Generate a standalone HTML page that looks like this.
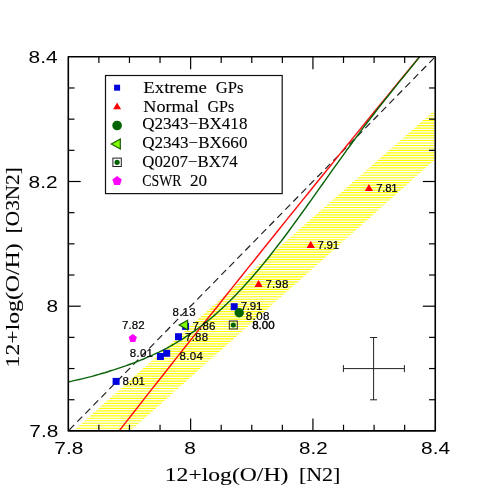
<!DOCTYPE html>
<html><head><meta charset="utf-8"><title>plot</title>
<style>
html,body{margin:0;padding:0;background:#fff;overflow:hidden;width:491px;height:491px;}
svg{display:block;font-family:"Liberation Sans",sans-serif;will-change:transform;}
</style></head>
<body>
<svg width="491" height="491" viewBox="0 0 491 491">
<defs>
<clipPath id="band"><polygon points="73.4,431 130.3,431 434.3,160.2 434.3,110.6 250,272.8"/></clipPath>
<clipPath id="cp"><rect x="68.3" y="56.8" width="366.95" height="374.09999999999997"/></clipPath>
</defs>
<rect width="491" height="491" fill="#fff"/>
<g clip-path="url(#cp)">
<g clip-path="url(#band)"><g stroke="#ffff00" stroke-width="1.15"><line x1="60" x2="440" y1="110.76" y2="110.76"/><line x1="60" x2="440" y1="113.24" y2="113.24"/><line x1="60" x2="440" y1="115.72" y2="115.72"/><line x1="60" x2="440" y1="118.20" y2="118.20"/><line x1="60" x2="440" y1="120.68" y2="120.68"/><line x1="60" x2="440" y1="123.16" y2="123.16"/><line x1="60" x2="440" y1="125.64" y2="125.64"/><line x1="60" x2="440" y1="128.12" y2="128.12"/><line x1="60" x2="440" y1="130.60" y2="130.60"/><line x1="60" x2="440" y1="133.08" y2="133.08"/><line x1="60" x2="440" y1="135.56" y2="135.56"/><line x1="60" x2="440" y1="138.04" y2="138.04"/><line x1="60" x2="440" y1="140.52" y2="140.52"/><line x1="60" x2="440" y1="143.00" y2="143.00"/><line x1="60" x2="440" y1="145.48" y2="145.48"/><line x1="60" x2="440" y1="147.96" y2="147.96"/><line x1="60" x2="440" y1="150.44" y2="150.44"/><line x1="60" x2="440" y1="152.92" y2="152.92"/><line x1="60" x2="440" y1="155.40" y2="155.40"/><line x1="60" x2="440" y1="157.88" y2="157.88"/><line x1="60" x2="440" y1="160.36" y2="160.36"/><line x1="60" x2="440" y1="162.84" y2="162.84"/><line x1="60" x2="440" y1="165.32" y2="165.32"/><line x1="60" x2="440" y1="167.80" y2="167.80"/><line x1="60" x2="440" y1="170.28" y2="170.28"/><line x1="60" x2="440" y1="172.76" y2="172.76"/><line x1="60" x2="440" y1="175.24" y2="175.24"/><line x1="60" x2="440" y1="177.72" y2="177.72"/><line x1="60" x2="440" y1="180.20" y2="180.20"/><line x1="60" x2="440" y1="182.68" y2="182.68"/><line x1="60" x2="440" y1="185.16" y2="185.16"/><line x1="60" x2="440" y1="187.64" y2="187.64"/><line x1="60" x2="440" y1="190.12" y2="190.12"/><line x1="60" x2="440" y1="192.60" y2="192.60"/><line x1="60" x2="440" y1="195.08" y2="195.08"/><line x1="60" x2="440" y1="197.56" y2="197.56"/><line x1="60" x2="440" y1="200.04" y2="200.04"/><line x1="60" x2="440" y1="202.52" y2="202.52"/><line x1="60" x2="440" y1="205.00" y2="205.00"/><line x1="60" x2="440" y1="207.48" y2="207.48"/><line x1="60" x2="440" y1="209.96" y2="209.96"/><line x1="60" x2="440" y1="212.44" y2="212.44"/><line x1="60" x2="440" y1="214.92" y2="214.92"/><line x1="60" x2="440" y1="217.40" y2="217.40"/><line x1="60" x2="440" y1="219.88" y2="219.88"/><line x1="60" x2="440" y1="222.36" y2="222.36"/><line x1="60" x2="440" y1="224.84" y2="224.84"/><line x1="60" x2="440" y1="227.32" y2="227.32"/><line x1="60" x2="440" y1="229.80" y2="229.80"/><line x1="60" x2="440" y1="232.28" y2="232.28"/><line x1="60" x2="440" y1="234.76" y2="234.76"/><line x1="60" x2="440" y1="237.24" y2="237.24"/><line x1="60" x2="440" y1="239.72" y2="239.72"/><line x1="60" x2="440" y1="242.20" y2="242.20"/><line x1="60" x2="440" y1="244.68" y2="244.68"/><line x1="60" x2="440" y1="247.16" y2="247.16"/><line x1="60" x2="440" y1="249.64" y2="249.64"/><line x1="60" x2="440" y1="252.12" y2="252.12"/><line x1="60" x2="440" y1="254.60" y2="254.60"/><line x1="60" x2="440" y1="257.08" y2="257.08"/><line x1="60" x2="440" y1="259.56" y2="259.56"/><line x1="60" x2="440" y1="262.04" y2="262.04"/><line x1="60" x2="440" y1="264.52" y2="264.52"/><line x1="60" x2="440" y1="267.00" y2="267.00"/><line x1="60" x2="440" y1="269.48" y2="269.48"/><line x1="60" x2="440" y1="271.96" y2="271.96"/><line x1="60" x2="440" y1="274.44" y2="274.44"/><line x1="60" x2="440" y1="276.92" y2="276.92"/><line x1="60" x2="440" y1="279.40" y2="279.40"/><line x1="60" x2="440" y1="281.88" y2="281.88"/><line x1="60" x2="440" y1="284.36" y2="284.36"/><line x1="60" x2="440" y1="286.84" y2="286.84"/><line x1="60" x2="440" y1="289.32" y2="289.32"/><line x1="60" x2="440" y1="291.80" y2="291.80"/><line x1="60" x2="440" y1="294.28" y2="294.28"/><line x1="60" x2="440" y1="296.76" y2="296.76"/><line x1="60" x2="440" y1="299.24" y2="299.24"/><line x1="60" x2="440" y1="301.72" y2="301.72"/><line x1="60" x2="440" y1="304.20" y2="304.20"/><line x1="60" x2="440" y1="306.68" y2="306.68"/><line x1="60" x2="440" y1="309.16" y2="309.16"/><line x1="60" x2="440" y1="311.64" y2="311.64"/><line x1="60" x2="440" y1="314.12" y2="314.12"/><line x1="60" x2="440" y1="316.60" y2="316.60"/><line x1="60" x2="440" y1="319.08" y2="319.08"/><line x1="60" x2="440" y1="321.56" y2="321.56"/><line x1="60" x2="440" y1="324.04" y2="324.04"/><line x1="60" x2="440" y1="326.52" y2="326.52"/><line x1="60" x2="440" y1="329.00" y2="329.00"/><line x1="60" x2="440" y1="331.48" y2="331.48"/><line x1="60" x2="440" y1="333.96" y2="333.96"/><line x1="60" x2="440" y1="336.44" y2="336.44"/><line x1="60" x2="440" y1="338.92" y2="338.92"/><line x1="60" x2="440" y1="341.40" y2="341.40"/><line x1="60" x2="440" y1="343.88" y2="343.88"/><line x1="60" x2="440" y1="346.36" y2="346.36"/><line x1="60" x2="440" y1="348.84" y2="348.84"/><line x1="60" x2="440" y1="351.32" y2="351.32"/><line x1="60" x2="440" y1="353.80" y2="353.80"/><line x1="60" x2="440" y1="356.28" y2="356.28"/><line x1="60" x2="440" y1="358.76" y2="358.76"/><line x1="60" x2="440" y1="361.24" y2="361.24"/><line x1="60" x2="440" y1="363.72" y2="363.72"/><line x1="60" x2="440" y1="366.20" y2="366.20"/><line x1="60" x2="440" y1="368.68" y2="368.68"/><line x1="60" x2="440" y1="371.16" y2="371.16"/><line x1="60" x2="440" y1="373.64" y2="373.64"/><line x1="60" x2="440" y1="376.12" y2="376.12"/><line x1="60" x2="440" y1="378.60" y2="378.60"/><line x1="60" x2="440" y1="381.08" y2="381.08"/><line x1="60" x2="440" y1="383.56" y2="383.56"/><line x1="60" x2="440" y1="386.04" y2="386.04"/><line x1="60" x2="440" y1="388.52" y2="388.52"/><line x1="60" x2="440" y1="391.00" y2="391.00"/><line x1="60" x2="440" y1="393.48" y2="393.48"/><line x1="60" x2="440" y1="395.96" y2="395.96"/><line x1="60" x2="440" y1="398.44" y2="398.44"/><line x1="60" x2="440" y1="400.92" y2="400.92"/><line x1="60" x2="440" y1="403.40" y2="403.40"/><line x1="60" x2="440" y1="405.88" y2="405.88"/><line x1="60" x2="440" y1="408.36" y2="408.36"/><line x1="60" x2="440" y1="410.84" y2="410.84"/><line x1="60" x2="440" y1="413.32" y2="413.32"/><line x1="60" x2="440" y1="415.80" y2="415.80"/><line x1="60" x2="440" y1="418.28" y2="418.28"/><line x1="60" x2="440" y1="420.76" y2="420.76"/><line x1="60" x2="440" y1="423.24" y2="423.24"/><line x1="60" x2="440" y1="425.72" y2="425.72"/><line x1="60" x2="440" y1="428.20" y2="428.20"/><line x1="60" x2="440" y1="430.68" y2="430.68"/></g></g>
<g stroke="#1a1a1a" stroke-width="1.15"><line x1="69.3" y1="429.9" x2="74.2" y2="424.9"/><line x1="77.3" y1="421.7" x2="82.2" y2="416.7"/><line x1="85.3" y1="413.6" x2="90.2" y2="408.6"/><line x1="93.3" y1="405.4" x2="98.2" y2="400.4"/><line x1="101.3" y1="397.3" x2="106.2" y2="392.3"/><line x1="109.3" y1="389.1" x2="114.2" y2="384.1"/><line x1="117.3" y1="380.9" x2="122.2" y2="376.0"/><line x1="125.3" y1="372.8" x2="130.2" y2="367.8"/><line x1="133.3" y1="364.6" x2="138.2" y2="359.7"/><line x1="141.3" y1="356.5" x2="146.2" y2="351.5"/><line x1="149.3" y1="348.3" x2="154.2" y2="343.3"/><line x1="157.3" y1="340.2" x2="162.2" y2="335.2"/><line x1="165.3" y1="332.0" x2="170.2" y2="327.0"/><line x1="173.3" y1="323.9" x2="178.2" y2="318.9"/><line x1="181.3" y1="315.7" x2="186.2" y2="310.7"/><line x1="189.3" y1="307.5" x2="194.2" y2="302.6"/><line x1="197.3" y1="299.4" x2="202.2" y2="294.4"/><line x1="205.3" y1="291.2" x2="210.2" y2="286.3"/><line x1="213.3" y1="283.1" x2="218.2" y2="278.1"/><line x1="221.3" y1="274.9" x2="226.2" y2="269.9"/><line x1="229.3" y1="266.8" x2="234.2" y2="261.8"/><line x1="237.3" y1="258.6" x2="242.2" y2="253.6"/><line x1="245.3" y1="250.5" x2="250.2" y2="245.5"/><line x1="253.3" y1="242.3" x2="258.2" y2="237.3"/><line x1="261.3" y1="234.1" x2="266.2" y2="229.2"/><line x1="269.3" y1="226.0" x2="274.2" y2="221.0"/><line x1="277.3" y1="217.8" x2="282.2" y2="212.9"/><line x1="285.3" y1="209.7" x2="290.2" y2="204.7"/><line x1="293.3" y1="201.5" x2="298.2" y2="196.5"/><line x1="301.3" y1="193.4" x2="306.2" y2="188.4"/><line x1="309.3" y1="185.2" x2="314.2" y2="180.2"/><line x1="317.3" y1="177.0" x2="322.2" y2="172.1"/><line x1="325.3" y1="168.9" x2="330.2" y2="163.9"/><line x1="333.3" y1="160.7" x2="338.2" y2="155.8"/><line x1="341.3" y1="152.6" x2="346.2" y2="147.6"/><line x1="349.3" y1="144.4" x2="354.2" y2="139.4"/><line x1="357.3" y1="136.3" x2="362.2" y2="131.3"/><line x1="365.3" y1="128.1" x2="370.2" y2="123.1"/><line x1="373.3" y1="120.0" x2="378.2" y2="115.0"/><line x1="381.3" y1="111.8" x2="386.2" y2="106.8"/><line x1="389.3" y1="103.6" x2="394.2" y2="98.7"/><line x1="397.3" y1="95.5" x2="402.2" y2="90.5"/><line x1="405.3" y1="87.3" x2="410.2" y2="82.4"/><line x1="413.3" y1="79.2" x2="418.2" y2="74.2"/><line x1="421.3" y1="71.0" x2="426.2" y2="66.0"/><line x1="429.3" y1="62.9" x2="434.2" y2="57.9"/><line x1="437.3" y1="54.7" x2="442.2" y2="49.7"/></g>
<polyline points="118.3,432.0 125.8,422.4 133.4,412.7 140.9,403.1 148.5,393.4 156.1,383.8 163.7,374.2 171.3,364.5 178.9,354.9 186.5,345.2 194.2,335.6 201.8,325.9 209.5,316.3 217.2,306.7 224.8,297.0 232.5,287.4 240.2,277.7 247.9,268.1 255.7,258.5 263.4,248.8 271.1,239.2 278.9,229.5 286.6,219.9 294.4,210.3 302.2,200.6 310.0,191.0 317.8,181.3 325.6,171.7 333.4,162.1 341.2,152.4 349.1,142.8 356.9,133.1 364.8,123.5 372.7,113.8 380.5,104.2 388.4,94.6 396.3,84.9 404.3,75.3 412.2,65.6 420.1,56.0" fill="none" stroke="#ff1010" stroke-width="1.45"/>
<polyline points="66.0,382.2 69.0,381.7 72.0,381.1 74.9,380.4 77.9,379.8 80.9,379.1 83.9,378.4 86.9,377.6 89.9,376.9 92.8,376.1 95.8,375.2 98.8,374.4 101.8,373.5 104.8,372.7 107.8,371.7 110.7,370.8 113.7,369.9 116.7,368.9 119.7,367.9 122.7,366.9 125.7,365.9 128.6,364.8 131.6,363.7 134.6,362.6 137.6,361.4 140.6,360.2 143.6,359.0 146.5,357.7 149.5,356.4 152.5,355.1 155.5,353.7 158.5,352.3 161.5,350.8 164.4,349.3 167.4,347.8 170.4,346.1 173.4,344.5 176.4,342.7 179.4,340.9 182.3,339.1 185.3,337.2 188.3,335.2 191.3,333.2 194.3,331.1 197.3,329.0 200.2,326.7 203.2,324.4 206.2,322.1 209.2,319.7 212.2,317.2 215.2,314.6 218.1,312.0 221.1,309.3 224.1,306.5 227.1,303.6 230.1,300.7 233.1,297.7 236.0,294.7 239.0,291.6 242.0,288.4 245.0,285.1 248.0,281.8 251.0,278.5 253.9,275.0 256.9,271.5 259.9,268.0 262.9,264.4 265.9,260.7 268.9,257.0 271.8,253.2 274.8,249.4 277.8,245.5 280.8,241.6 283.8,237.7 286.8,233.7 289.7,229.7 292.7,225.6 295.7,221.5 298.7,217.4 301.7,213.3 304.7,209.1 307.6,205.0 310.6,200.8 313.6,196.6 316.6,192.4 319.6,188.2 322.6,184.0 325.5,179.8 328.5,175.6 331.5,171.4 334.5,167.2 337.5,163.1 340.5,158.9 343.4,154.8 346.4,150.6 349.4,146.5 352.4,142.5 355.4,138.4 358.4,134.4 361.3,130.4 364.3,126.4 367.3,122.5 370.3,118.6 373.3,114.7 376.3,110.8 379.2,107.0 382.2,103.2 385.2,99.5 388.2,95.7 391.2,92.0 394.2,88.3 397.1,84.6 400.1,80.9 403.1,77.3 406.1,73.6 409.1,69.9 412.1,66.3 415.0,62.6 418.0,58.9 421.0,55.1" fill="none" stroke="#0a640a" stroke-width="1.45" stroke-linejoin="round"/>
</g>
<g stroke="#000" stroke-width="1.2" fill="none">
<line x1="98.88" y1="430.9" x2="98.88" y2="424.7"/>
<line x1="98.88" y1="56.8" x2="98.88" y2="63.0"/>
<line x1="68.3" y1="399.73" x2="74.5" y2="399.73"/>
<line x1="435.25" y1="399.73" x2="429.05" y2="399.73"/>
<line x1="129.46" y1="430.9" x2="129.46" y2="424.7"/>
<line x1="129.46" y1="56.8" x2="129.46" y2="63.0"/>
<line x1="68.3" y1="368.55" x2="74.5" y2="368.55"/>
<line x1="435.25" y1="368.55" x2="429.05" y2="368.55"/>
<line x1="160.04" y1="430.9" x2="160.04" y2="424.7"/>
<line x1="160.04" y1="56.8" x2="160.04" y2="63.0"/>
<line x1="68.3" y1="337.37" x2="74.5" y2="337.37"/>
<line x1="435.25" y1="337.37" x2="429.05" y2="337.37"/>
<line x1="190.62" y1="430.9" x2="190.62" y2="418.5"/>
<line x1="190.62" y1="56.8" x2="190.62" y2="69.2"/>
<line x1="68.3" y1="306.20" x2="80.7" y2="306.20"/>
<line x1="435.25" y1="306.20" x2="422.85" y2="306.20"/>
<line x1="221.20" y1="430.9" x2="221.20" y2="424.7"/>
<line x1="221.20" y1="56.8" x2="221.20" y2="63.0"/>
<line x1="68.3" y1="275.02" x2="74.5" y2="275.02"/>
<line x1="435.25" y1="275.02" x2="429.05" y2="275.02"/>
<line x1="251.77" y1="430.9" x2="251.77" y2="424.7"/>
<line x1="251.77" y1="56.8" x2="251.77" y2="63.0"/>
<line x1="68.3" y1="243.85" x2="74.5" y2="243.85"/>
<line x1="435.25" y1="243.85" x2="429.05" y2="243.85"/>
<line x1="282.35" y1="430.9" x2="282.35" y2="424.7"/>
<line x1="282.35" y1="56.8" x2="282.35" y2="63.0"/>
<line x1="68.3" y1="212.67" x2="74.5" y2="212.67"/>
<line x1="435.25" y1="212.67" x2="429.05" y2="212.67"/>
<line x1="312.93" y1="430.9" x2="312.93" y2="418.5"/>
<line x1="312.93" y1="56.8" x2="312.93" y2="69.2"/>
<line x1="68.3" y1="181.50" x2="80.7" y2="181.50"/>
<line x1="435.25" y1="181.50" x2="422.85" y2="181.50"/>
<line x1="343.51" y1="430.9" x2="343.51" y2="424.7"/>
<line x1="343.51" y1="56.8" x2="343.51" y2="63.0"/>
<line x1="68.3" y1="150.32" x2="74.5" y2="150.32"/>
<line x1="435.25" y1="150.32" x2="429.05" y2="150.32"/>
<line x1="374.09" y1="430.9" x2="374.09" y2="424.7"/>
<line x1="374.09" y1="56.8" x2="374.09" y2="63.0"/>
<line x1="68.3" y1="119.15" x2="74.5" y2="119.15"/>
<line x1="435.25" y1="119.15" x2="429.05" y2="119.15"/>
<line x1="404.67" y1="430.9" x2="404.67" y2="424.7"/>
<line x1="404.67" y1="56.8" x2="404.67" y2="63.0"/>
<line x1="68.3" y1="87.98" x2="74.5" y2="87.98"/>
<line x1="435.25" y1="87.98" x2="429.05" y2="87.98"/>
<rect x="68.3" y="56.8" width="366.95" height="374.09999999999997" stroke-width="1.6" stroke-linejoin="round"/>
</g>
<g stroke="#222" stroke-width="1" fill="none">
<line x1="343.4" y1="368.6" x2="404.4" y2="368.6"/>
<line x1="373.6" y1="337.5" x2="373.6" y2="399.8"/>
<line x1="343.4" y1="365.1" x2="343.4" y2="372.1"/>
<line x1="404.4" y1="365.1" x2="404.4" y2="372.1"/>
<line x1="370.1" y1="337.5" x2="377.1" y2="337.5"/>
<line x1="370.1" y1="399.8" x2="377.1" y2="399.8"/>
</g>
<g fill="#000" stroke="#000" stroke-width="0.2">
<rect x="112.6" y="377.9" width="7" height="7" fill="#0000dd" stroke="none"/>
<text x="122.5" y="385" textLength="22.5" lengthAdjust="spacing" font-size="11.5">8.01</text>
<rect x="156.9" y="353.0" width="7" height="7" fill="#0000dd" stroke="none"/>
<rect x="163.2" y="349.8" width="7" height="7" fill="#0000dd" stroke="none"/>
<text x="129.8" y="356.9" textLength="23.2" lengthAdjust="spacing" font-size="11.5">8.01</text>
<text x="179.5" y="360.4" textLength="23.5" lengthAdjust="spacing" font-size="11.5">8.04</text>
<rect x="175.0" y="333.2" width="7" height="7" fill="#0000dd" stroke="none"/>
<text x="185.1" y="340.6" textLength="23" lengthAdjust="spacing" font-size="11.5">7.88</text>
<rect x="182.1" y="322.9" width="7" height="7" fill="#0000dd" stroke="none"/>
<polygon points="179.1,325.0 187.6,320.2 187.6,329.8" fill="#7fff00" stroke="#1a5c00" stroke-width="1.2" stroke-linejoin="miter"/>
<text x="192.4" y="330.3" textLength="23" lengthAdjust="spacing" font-size="11.5">7.86</text>
<text x="172.6" y="315.9" textLength="23" lengthAdjust="spacing" font-size="11.5">8.13</text>
<polygon points="132.8,334.1 136.9,337.1 135.3,341.9 130.3,341.9 128.7,337.1" fill="#ff00ff" stroke="none"/>
<text x="122" y="329.3" textLength="22.7" lengthAdjust="spacing" font-size="11.5">7.82</text>
<polygon points="254.5,287.1 262.7,287.1 258.6,279.9" fill="#ff0000" stroke="none"/>
<text x="265.4" y="287.8" textLength="22.9" lengthAdjust="spacing" font-size="11.5">7.98</text>
<polygon points="306.6,248.0 314.8,248.0 310.7,240.8" fill="#ff0000" stroke="none"/>
<text x="317.4" y="248.9" textLength="21.7" lengthAdjust="spacing" font-size="11.5">7.91</text>
<polygon points="364.8,191.1 373.0,191.1 368.9,183.9" fill="#ff0000" stroke="none"/>
<text x="376.3" y="192" textLength="21.3" lengthAdjust="spacing" font-size="11.5">7.81</text>
<rect x="230.7" y="303.2" width="7" height="7" fill="#0000dd" stroke="none"/>
<text x="240.7" y="310.3" textLength="21.7" lengthAdjust="spacing" font-size="11.5">7.91</text>
<circle cx="239.2" cy="312.7" r="4.7" fill="#006400" stroke="none"/>
<text x="245.8" y="319.5" textLength="23.6" lengthAdjust="spacing" font-size="11.5">8.08</text>
<rect x="229.3" y="321.0" width="8" height="8" fill="none" stroke="#222" stroke-width="1"/><circle cx="233.3" cy="325" r="2.6" fill="#006400" stroke="none"/>
<text x="252.2" y="328.7" textLength="22.4" lengthAdjust="spacing" font-size="11.5" stroke="#000" stroke-width="0.4">8.00</text>
</g>
<rect x="105.5" y="75.5" width="176.7" height="118.1" fill="#fff" stroke="#111" stroke-width="1.2"/>
<rect x="114.1" y="84.7" width="6" height="6" fill="#0000dd" stroke="none"/>
<text x="143.3" y="93.2" textLength="63.6" lengthAdjust="spacingAndGlyphs" font-size="16" font-family="Liberation Serif, serif" stroke="#000" stroke-width="0.1">Extreme</text>
<text x="215.7" y="93.2" textLength="27.7" lengthAdjust="spacingAndGlyphs" font-size="16" font-family="Liberation Serif, serif" stroke="#000" stroke-width="0.1">GPs</text>
<polygon points="113.1,109.2 121.1,109.2 117.1,102.4" fill="#ff0000" stroke="none"/>
<text x="143.3" y="111.5" textLength="55.4" lengthAdjust="spacingAndGlyphs" font-size="16" font-family="Liberation Serif, serif" stroke="#000" stroke-width="0.1">Normal</text>
<text x="207.5" y="111.5" textLength="26.7" lengthAdjust="spacingAndGlyphs" font-size="16" font-family="Liberation Serif, serif" stroke="#000" stroke-width="0.1">GPs</text>
<circle cx="117.1" cy="125.5" r="4.8" fill="#006400" stroke="none"/>
<text x="142.3" y="129.4" textLength="105.1" lengthAdjust="spacingAndGlyphs" font-size="16" font-family="Liberation Serif, serif" stroke="#000" stroke-width="0.1">Q2343−BX418</text>
<polygon points="111.3,144.0 120.3,139.0 120.3,149.0" fill="#7fff00" stroke="#1a5c00" stroke-width="1.2" stroke-linejoin="miter"/>
<text x="142.3" y="148.1" textLength="105.1" lengthAdjust="spacingAndGlyphs" font-size="16" font-family="Liberation Serif, serif" stroke="#000" stroke-width="0.1">Q2343−BX660</text>
<rect x="112.9" y="158.1" width="8.4" height="8.4" fill="none" stroke="#222" stroke-width="1"/><circle cx="117.1" cy="162.3" r="2.6" fill="#006400" stroke="none"/>
<text x="142.3" y="166.8" textLength="95.3" lengthAdjust="spacingAndGlyphs" font-size="16" font-family="Liberation Serif, serif" stroke="#000" stroke-width="0.1">Q0207−BX74</text>
<polygon points="117.1,176.0 121.8,179.4 120.0,184.9 114.2,184.9 112.4,179.4" fill="#ff00ff" stroke="none"/>
<text x="142.3" y="185.7" textLength="39.1" lengthAdjust="spacingAndGlyphs" font-size="16" font-family="Liberation Serif, serif" stroke="#000" stroke-width="0.1">CSWR</text>
<text x="190" y="185.7" textLength="17.1" lengthAdjust="spacingAndGlyphs" font-size="16" font-family="Liberation Serif, serif" stroke="#000" stroke-width="0.1">20</text>
<g fill="#000" font-size="17">
<text x="28.6" y="63" textLength="29" lengthAdjust="spacingAndGlyphs">8.4</text>
<text x="28.6" y="187.6" textLength="29" lengthAdjust="spacingAndGlyphs">8.2</text>
<text x="46.6" y="312.3" textLength="11.6" lengthAdjust="spacingAndGlyphs">8</text>
<text x="29.3" y="436.9" textLength="29" lengthAdjust="spacingAndGlyphs">7.8</text>
<text x="54.3" y="453.6" textLength="29" lengthAdjust="spacingAndGlyphs">7.8</text>
<text x="184.2" y="454.2" textLength="11.6" lengthAdjust="spacingAndGlyphs">8</text>
<text x="299.1" y="453.8" textLength="28.6" lengthAdjust="spacingAndGlyphs">8.2</text>
<text x="421.1" y="453.8" textLength="29" lengthAdjust="spacingAndGlyphs">8.4</text>
</g>
<g fill="#000" font-family="Liberation Serif, serif" font-size="19.7" stroke="#000" stroke-width="0.1">
<text x="164.8" y="480.5" textLength="123.5" lengthAdjust="spacingAndGlyphs">12+log(O/H)</text>
<text x="298.9" y="480.5" textLength="41.5" lengthAdjust="spacingAndGlyphs">[N2]</text>
<text transform="translate(18.6,367.4) rotate(-90)" x="0" y="0" textLength="124" lengthAdjust="spacingAndGlyphs">12+log(O/H)</text>
<text transform="translate(18.6,233.2) rotate(-90)" x="0" y="0" textLength="66" lengthAdjust="spacingAndGlyphs">[O3N2]</text>
</g>
</svg>
</body></html>
